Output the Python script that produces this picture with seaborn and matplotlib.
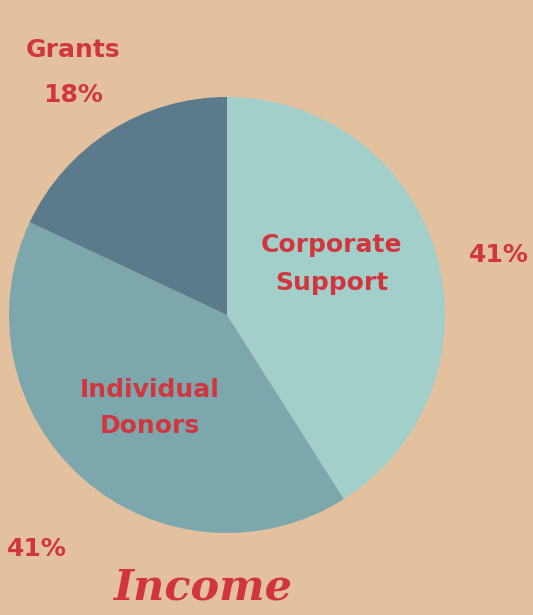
import matplotlib
matplotlib.use("Agg")
import seaborn as sns
from matplotlib import pyplot as plt

# data
categories = ["Corporate\nSupport", "Individual\nDonors", "Grants"]
shares = [41, 41, 18]
pct_labels = ["41%", "41%", "18%"]

bg = "#e3c19f"
red = "#d1363f"
colors = sns.color_palette(["#a3cfca", "#7ba7ad", "#5b7b8c"])

sns.set_theme(style="white")
plt.rcParams["font.family"] = ["DejaVu Sans"]

W, H = 533, 615
fig = plt.figure(figsize=(W / 100, H / 100), dpi=100, facecolor=bg)

# pie: center (227, 315) px, radius 218 px
cx, cy, r = 227, 315, 218
ax = fig.add_axes([(cx - r) / W, (H - cy - r) / H, 2 * r / W, 2 * r / H])
ax.set_facecolor(bg)
ax.pie(shares, colors=colors, startangle=90, counterclock=False,
       radius=1, wedgeprops=dict(linewidth=0))
ax.set_xlim(-1, 1)
ax.set_ylim(-1, 1)
ax.set_aspect("equal")
ax.axis("off")


def px(x, y):
    return x / W, 1 - y / H


txt = dict(color=red, fontweight="bold", ha="center", va="center",
           fontsize=18)

# category labels inside / around wedges
fig.text(*px(332, 264), categories[0], linespacing=1.75, **txt)
fig.text(*px(150, 408), categories[1], linespacing=1.65, **txt)
fig.text(*px(73, 50), categories[2], **txt)

# percentages
fig.text(*px(499, 255), pct_labels[0], **txt)
fig.text(*px(37, 549), pct_labels[1], **txt)
fig.text(*px(73, 95), pct_labels[2], **txt)

fig.text(*px(203, 588), "Income", color=red, fontsize=31,
         fontweight="bold", fontstyle="italic", family="DejaVu Serif",
         ha="center", va="center")

fig.savefig("out.png", dpi=100, facecolor=bg)
